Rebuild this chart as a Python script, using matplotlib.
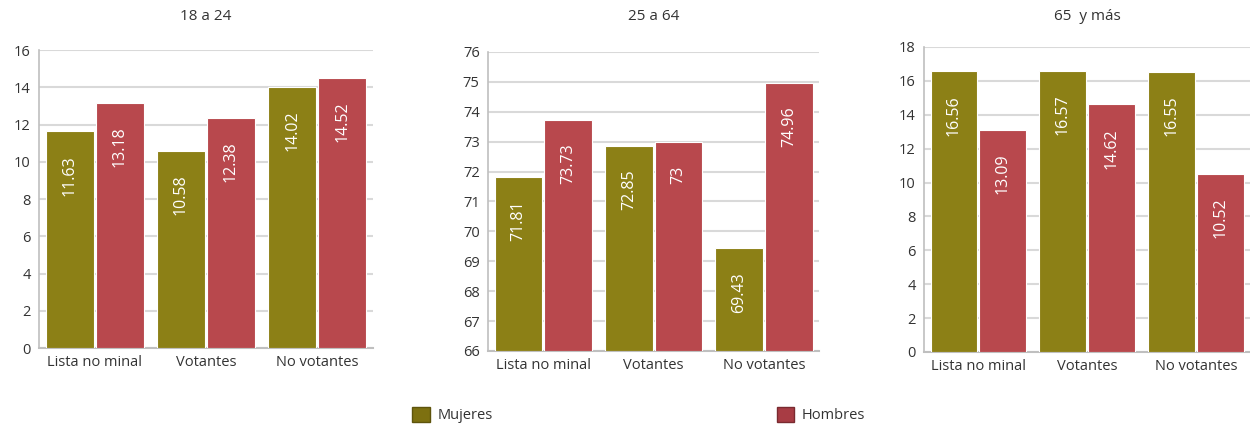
import numpy as np
import matplotlib
matplotlib.use("Agg")
import matplotlib.pyplot as plt
from matplotlib.patches import Patch

plt.rcParams['font.family'] = ['Open Sans', 'DejaVu Sans']

categorias = ["Lista no minal", "Votantes", "No votantes"]
grupos = ["18 a 24", "25 a 64", "65  y más"]
mujeres = [[11.63, 10.58, 14.02], [71.81, 72.85, 69.43], [16.56, 16.57, 16.55]]
hombres = [[13.18, 12.38, 14.52], [73.73, 73.0, 74.96], [13.09, 14.62, 10.52]]
ylims = [(0, 16, 2), (66, 76, 1), (0, 18, 2)]

verde = "#8c8016"
rojo = "#b8484d"
gris_txt = "#333333"

fig = plt.figure(figsize=(12.5, 4.28), dpi=100)
posiciones = [[0.0312, 0.1869, 0.267, 0.696],
              [0.3904, 0.1800, 0.265, 0.6986],
              [0.7392, 0.1776, 0.261, 0.7126]]

def etiqueta(v):
    s = ("%.2f" % v).rstrip("0").rstrip(".")
    return s

for k in range(3):
    ax = fig.add_axes(posiciones[k])
    x = np.arange(3)
    w = 0.43
    lo, hi, paso = ylims[k]
    b1 = ax.bar(x - w/2 - 0.01, np.array(mujeres[k]) - lo, width=w, bottom=lo,
                color=verde, edgecolor="white", linewidth=0.8, zorder=3)
    b2 = ax.bar(x + w/2 + 0.01, np.array(hombres[k]) - lo, width=w, bottom=lo,
                color=rojo, edgecolor="white", linewidth=0.8, zorder=3)
    for barras, vals in [(b1, mujeres[k]), (b2, hombres[k])]:
        for b, v in zip(barras, vals):
            ax.annotate(etiqueta(v), xy=(b.get_x() + b.get_width()/2, v),
                        xytext=(0, -17), textcoords="offset points",
                        rotation=90, ha="center", va="top", color="white",
                        fontsize=11.5, zorder=4)
    ax.set_xlim(-0.5, 2.5)
    ax.set_ylim(lo, hi)
    ax.set_yticks(np.arange(lo, hi + paso/2, paso))
    ax.set_xticks(x)
    ax.set_xticklabels(categorias)
    ax.grid(axis="y", color="#d9d9d9", linewidth=1.5, zorder=0)
    ax.set_axisbelow(True)
    for s in ["top", "right"]:
        ax.spines[s].set_visible(False)
    ax.spines["left"].set_color("#bfbfbf")
    ax.spines["bottom"].set_color("#bfbfbf")
    ax.spines["left"].set_linewidth(1.2)
    ax.spines["bottom"].set_linewidth(1.5)
    ax.tick_params(length=0, labelsize=10.5, colors=gris_txt, pad=6)
    ax.tick_params(axis="x", pad=5)
    p = posiciones[k]
    fig.text(p[0] + p[2]/2, 1 - 17/428, grupos[k], ha="center", va="center",
             fontsize=11, color=gris_txt)

handles = [Patch(facecolor="#7d7010", edgecolor="#5e540c"),
           Patch(facecolor="#a83c44", edgecolor="#7a2a30")]
fig.legend(handles, ["Mujeres", "Hombres"], loc="center",
           bbox_to_anchor=(0.511, 1 - 415/428), ncol=2, frameon=False,
           fontsize=10.5, columnspacing=19.5, handlelength=1.2, handleheight=1.2,
           handletextpad=0.5, labelcolor=gris_txt)

fig.savefig("out.png", dpi=100)
